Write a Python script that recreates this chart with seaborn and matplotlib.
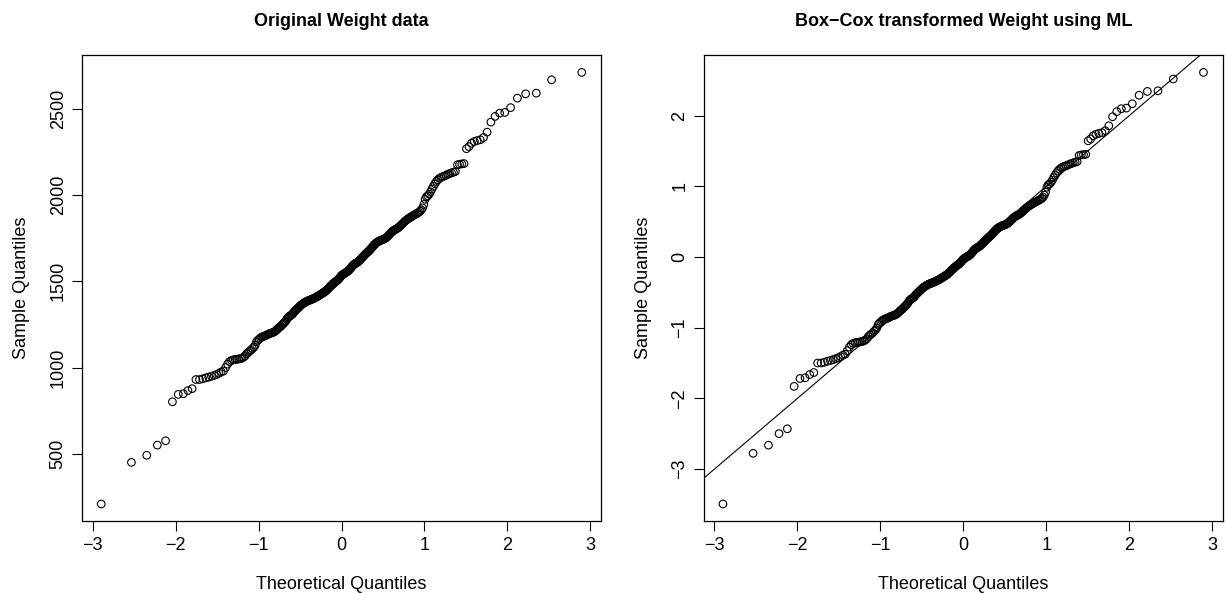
import numpy as np
import pandas as pd
import matplotlib
matplotlib.use("Agg")
import matplotlib.pyplot as plt
import seaborn as sns
from statistics import NormalDist

weight = [
    210, 451, 492, 551, 576, 802, 845, 849, 867, 878,
    931, 931, 935, 941, 945, 950, 955, 960, 967, 975,
    980, 1000, 1020, 1035, 1041, 1045, 1047, 1048, 1050, 1052,
    1055, 1060, 1068, 1080, 1088, 1095, 1102, 1110, 1118, 1130,
    1150, 1158, 1165, 1172, 1176, 1180, 1182, 1185, 1188, 1192,
    1195, 1198, 1200, 1202, 1205, 1208, 1212, 1218, 1224, 1230,
    1235, 1240, 1246, 1252, 1258, 1264, 1270, 1280, 1288, 1294,
    1298, 1302, 1305, 1310, 1318, 1324, 1330, 1335, 1340, 1345,
    1350, 1356, 1360, 1364, 1368, 1372, 1375, 1378, 1381, 1384,
    1386, 1388, 1390, 1392, 1394, 1396, 1398, 1400, 1402, 1405,
    1408, 1410, 1413, 1416, 1419, 1422, 1425, 1428, 1431, 1434,
    1437, 1440, 1444, 1448, 1452, 1457, 1462, 1467, 1472, 1476,
    1480, 1484, 1488, 1492, 1496, 1500, 1503, 1507, 1511, 1516,
    1522, 1528, 1533, 1537, 1540, 1543, 1546, 1549, 1552, 1555,
    1558, 1562, 1567, 1572, 1578, 1584, 1590, 1594, 1598, 1601,
    1604, 1607, 1610, 1613, 1617, 1622, 1627, 1632, 1637, 1642,
    1647, 1652, 1657, 1662, 1666, 1670, 1675, 1680, 1685, 1690,
    1696, 1702, 1708, 1713, 1718, 1722, 1726, 1729, 1732, 1735,
    1737, 1739, 1741, 1743, 1745, 1748, 1752, 1756, 1761, 1766,
    1772, 1778, 1784, 1789, 1793, 1797, 1800, 1803, 1806, 1810,
    1815, 1820, 1826, 1832, 1838, 1844, 1850, 1855, 1860, 1864,
    1868, 1872, 1876, 1880, 1884, 1888, 1892, 1896, 1900, 1906,
    1914, 1925, 1945, 1975, 1990, 1995, 2005, 2018, 2035, 2050,
    2065, 2078, 2088, 2096, 2102, 2106, 2110, 2114, 2120, 2124,
    2128, 2132, 2136, 2175, 2178, 2180, 2182, 2268, 2280, 2300,
    2310, 2315, 2320, 2333, 2364, 2422, 2455, 2474, 2478, 2506,
    2561, 2586, 2590, 2667, 2710,
]

# Box-Cox lambda (ML estimate, read from the shape of the right panel)
lam = 0.85

titles = ["Original Weight data", "Box\u2212Cox transformed Weight using ML"]
yticks_left = [500, 1000, 1500, 2000, 2500]
yticks_right = [-3, -2, -1, 0, 1, 2]
xticks = [-3, -2, -1, 0, 1, 2, 3]


def ppoints(n):
    a = 3 / 8 if n <= 10 else 0.5
    nd = NormalDist()
    return np.array([nd.inv_cdf((i - a) / (n + 1 - 2 * a)) for i in range(1, n + 1)])


def boxcox(x, lam):
    return np.log(x) if abs(lam) < 1e-8 else (x ** lam - 1) / lam


def r_lim(v):
    # R style axis range: data range plus 4% each side
    lo, hi = np.min(v), np.max(v)
    pad = 0.04 * (hi - lo)
    return lo - pad, hi + pad


w = np.array(weight, dtype=float)
theo = ppoints(len(w))
bc = boxcox(w, lam)
bc = (bc - bc.mean()) / bc.std(ddof=1)

df = pd.DataFrame({"theo": theo, "orig": np.sort(w), "bc": np.sort(bc)})

sns.set_style("ticks")
plt.rcParams["font.family"] = ["Liberation Sans", "DejaVu Sans"]
plt.rcParams.update({"text.color": "black", "axes.labelcolor": "black",
                     "xtick.color": "black", "ytick.color": "black"})

fig = plt.figure(figsize=(12.26, 5.93), dpi=100)
ax1 = fig.add_axes([0.0669, 0.121, 0.4233, 0.786])
ax2 = fig.add_axes([0.574, 0.121, 0.4233, 0.786])

for ax, col, title, yt in [(ax1, "orig", titles[0], yticks_left),
                            (ax2, "bc", titles[1], yticks_right)]:
    sns.scatterplot(data=df, x="theo", y=col, ax=ax, marker="o", s=30,
                    facecolor="none", edgecolor="black", linewidth=0.8)
    ax.set_xlim(r_lim(df["theo"]))
    ax.set_ylim(r_lim(df[col]))
    ax.set_xticks(xticks)
    ax.set_yticks(yt)
    ax.set_xticklabels([str(t).replace("-", "\u2212") for t in xticks], fontsize=13)
    ax.set_yticklabels([str(t).replace("-", "\u2212") for t in yt], fontsize=13,
                       rotation=90, va="center")
    ax.tick_params(direction="out", length=7, width=0.8, pad=4)
    for sp in ax.spines.values():
        sp.set_visible(True)
        sp.set_color("black")
        sp.set_linewidth(0.9)
    ax.set_title(title, fontsize=13, fontweight="bold", pad=21)
    ax.set_xlabel("Theoretical Quantiles", fontsize=13, labelpad=16)
    ax.set_ylabel("Sample Quantiles", fontsize=13, labelpad=14)

# reference line for standardised data
ax2.axline((0, 0), slope=1, color="black", linewidth=0.8)

fig.savefig("out.png", dpi=100)
